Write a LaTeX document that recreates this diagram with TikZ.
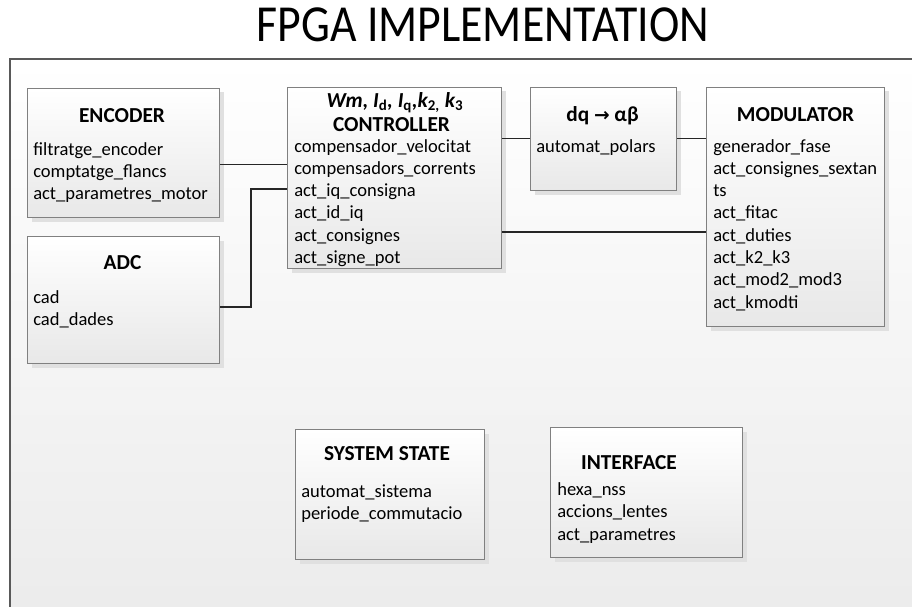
\documentclass[tikz,border=0pt]{standalone}
\usepackage{fontspec}
\setmainfont{Carlito}
\newfontfamily\titlefont[FakeStretch=0.88]{Carlito}
\newfontfamily\arrowfont{DejaVu Sans}
\usetikzlibrary{shadows}

\begin{document}
\begin{tikzpicture}[x=0.75pt,y=-0.75pt,
  frame/.style={draw=black!65, line width=1.5pt, top color=white, bottom color=black!8},
  blk/.style={draw=black!50, line width=0.75pt, top color=white, bottom color=black!9,
    general shadow={fill=black!12, shadow xshift=3pt, shadow yshift=-3pt},
    anchor=north west, inner sep=0pt},
  hdr/.style={font=\fontsize{16}{19}\selectfont\bfseries, anchor=base, inner sep=0pt},
  itm/.style={font=\fontsize{13.9}{16}\selectfont, anchor=base west, inner sep=0pt},
  wire/.style={draw=black!85, line width=0.9pt}]

\useasboundingbox (0,0) rectangle (912,606);
\clip (0,0) rectangle (912,606);

% title and outer FPGA frame
\node[anchor=base, inner sep=0pt, font=\titlefont\fontsize{39}{44}\selectfont] (title) at (483,41.5) {FPGA IMPLEMENTATION};
\path[frame] (10,59) rectangle (935,640);

% blocks
\node[blk, minimum width={192*0.75pt}, minimum height={129*0.75pt}] (enc)  at (27,88)  {};
\node[blk, minimum width={214*0.75pt}, minimum height={181*0.75pt}] (ctrl) at (287,87) {};
\node[blk, minimum width={146*0.75pt}, minimum height={103*0.75pt}] (dq)   at (530,87) {};
\node[blk, minimum width={178*0.75pt}, minimum height={239*0.75pt}] (mod)  at (706,87) {};
\node[blk, minimum width={192*0.75pt}, minimum height={127*0.75pt}] (adc)  at (27,236) {};
\node[blk, minimum width={189*0.75pt}, minimum height={130*0.75pt}] (sys)  at (295,429) {};
\node[blk, minimum width={192*0.75pt}, minimum height={130*0.75pt}] (intf) at (550,427) {};

% ENCODER
\node[hdr] (encH) at (122,122.5) {ENCODER};
\node[itm] (enc1) at (33,155) {filtratge\_encoder};
\node[itm] (enc2) at (33,177) {comptatge\_flancs};
\node[itm] (enc3) at (33,199) {act\_parametres\_motor};

% CONTROLLER
\node[hdr] (ctrlV) at (395,107.5) {\itshape Wm, I\textsubscript{\upshape d}, I\textsubscript{\upshape q},k\textsubscript{\upshape 2,} k\textsubscript{\upshape 3}};
\node[hdr] (ctrlH) at (391.5,132) {CONTROLLER};
\node[itm] (ctrl1) at (294,152) {compensador\_velocitat};
\node[itm] (ctrl2) at (294,174.3) {compensadors\_corrents};
\node[itm] (ctrl3) at (294,196.6) {act\_iq\_consigna};
\node[itm] (ctrl4) at (294,218.9) {act\_id\_iq};
\node[itm] (ctrl5) at (294,241.2) {act\_consignes};
\node[itm] (ctrl6) at (294,263.5) {act\_signe\_pot};

% dq -> alpha beta
\node[hdr] (dqH) at (602.5,122) {dq {\arrowfont\fontsize{14}{16}\selectfont\bfseries →} αβ};
\node[itm] (dq1) at (536,152) {automat\_polars};

% MODULATOR
\node[hdr] (modH) at (795.5,122) {MODULATOR};
\node[itm] (mod1) at (713,152) {generador\_fase};
\node[itm] (mod2) at (713,174.3) {act\_consignes\_sextan};
\node[itm] (mod3) at (713,196.6) {ts};
\node[itm] (mod4) at (713,218.9) {act\_fitac};
\node[itm] (mod5) at (713,241.2) {act\_duties};
\node[itm] (mod6) at (713,263.5) {act\_k2\_k3};
\node[itm] (mod7) at (713,285.8) {act\_mod2\_mod3};
\node[itm] (mod8) at (713,308.1) {act\_kmodti};

% ADC
\node[hdr] (adcH) at (122.5,269) {ADC};
\node[itm] (adc1) at (33,303) {cad};
\node[itm] (adc2) at (33,325) {cad\_dades};

% SYSTEM STATE
\node[hdr] (sysH) at (387,460) {SYSTEM STATE};
\node[itm] (sys1) at (301,497) {automat\_sistema};
\node[itm] (sys2) at (301,519.5) {periode\_commutacio};

% INTERFACE
\node[hdr] (intfH) at (629,469) {INTERFACE};
\node[itm] (intf1) at (557,495) {hexa\_nss};
\node[itm] (intf2) at (557,517.5) {accions\_lentes};
\node[itm] (intf3) at (557,540) {act\_parametres};

% connections
\coordinate (adcBend) at (251,189);
\draw[wire] (enc.east |- 0,164.5) -- (ctrl.west |- 0,164.5);
\draw[wire] (adc.east |- 0,307) -| (adcBend) -- (ctrl.west |- adcBend);
\draw[wire] (ctrl.east |- 0,138.5) -- (dq.west |- 0,138.5);
\draw[wire] (dq.east |- 0,138.5) -- (mod.west |- 0,138.5);
\draw[wire] (ctrl.east |- 0,232) -- (mod.west |- 0,232);
\end{tikzpicture}
\end{document}
